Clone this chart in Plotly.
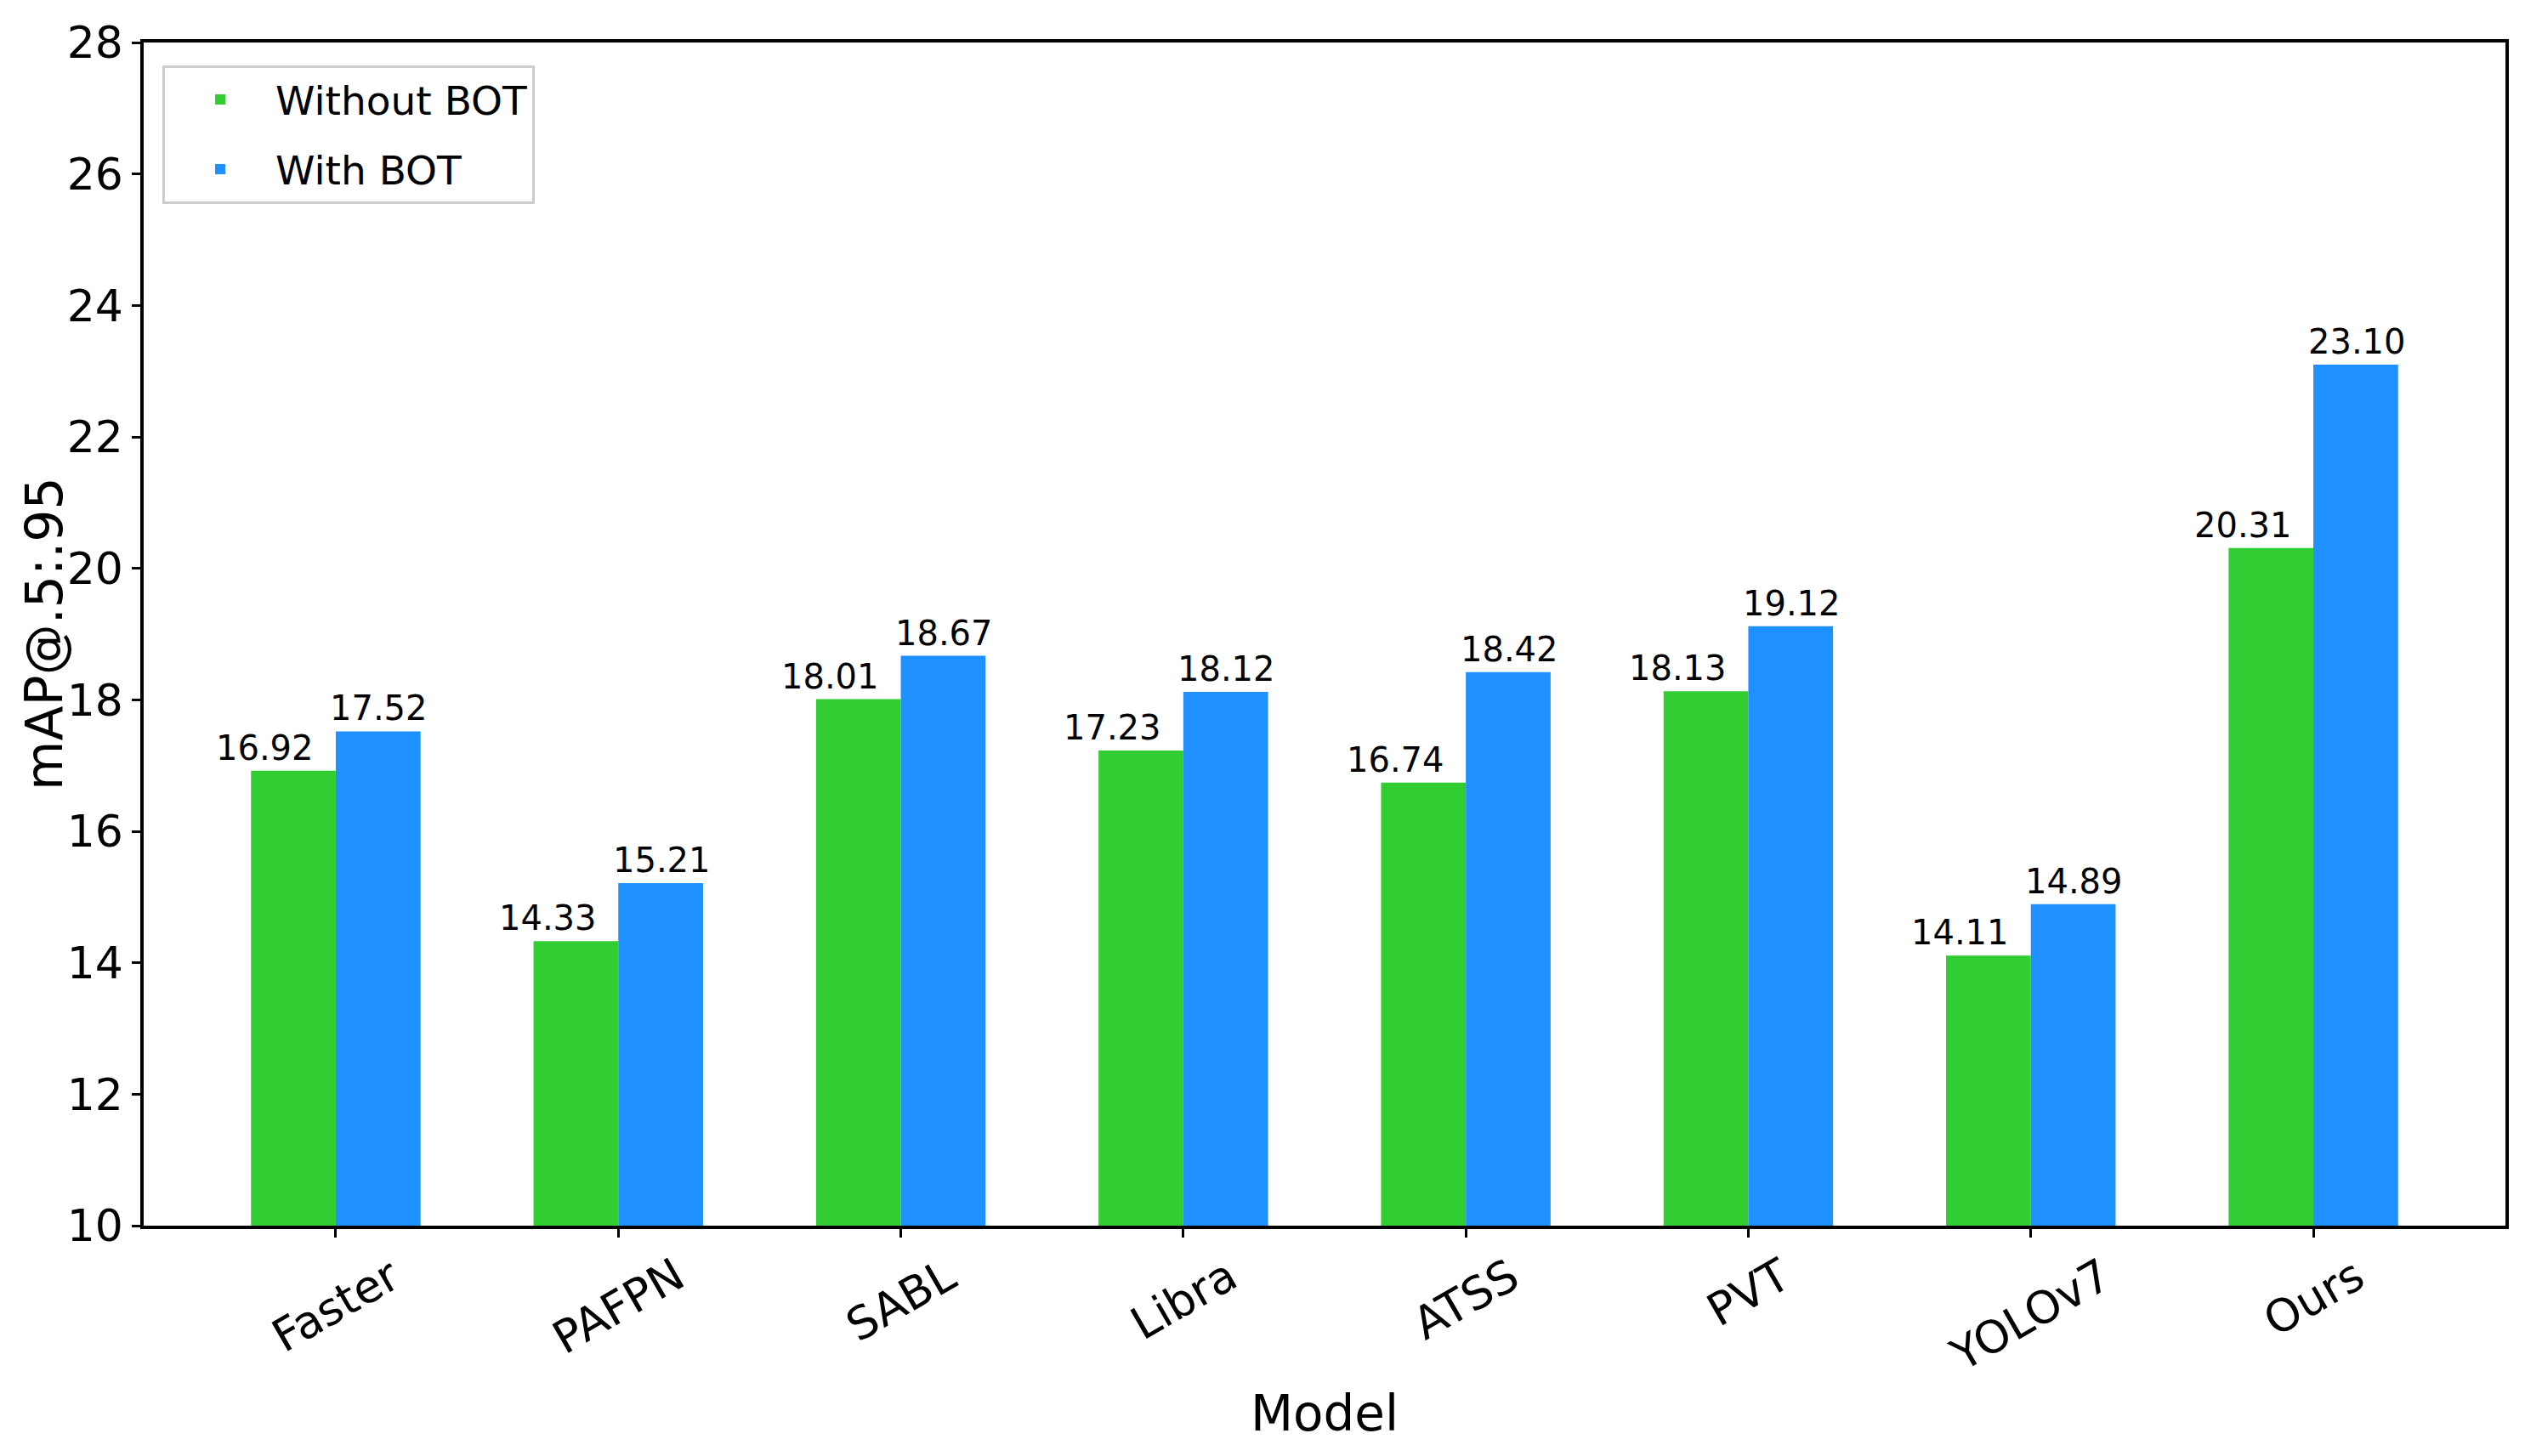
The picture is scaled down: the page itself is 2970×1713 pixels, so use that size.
import plotly.graph_objects as go

models = ["Faster", "PAFPN", "SABL", "Libra", "ATSS", "PVT", "YOLOv7", "Ours"]
without_bot = [16.92, 14.33, 18.01, 17.23, 16.74, 18.13, 14.11, 20.31]
with_bot = [17.52, 15.21, 18.67, 18.12, 18.42, 19.12, 14.89, 23.10]
y_ticks = [10, 12, 14, 16, 18, 20, 22, 24, 26, 28]

FONT = "DejaVu Sans"
PAGE = 8  # default body margin of the html page
W, H = 2970 - PAGE, 1713 - PAGE
L, T = 169 - PAGE, 43 - PAGE
PW, PH = 2778, 1399
R, B = W - L - PW, H - T - PH

fig = go.Figure()
fig.add_trace(go.Bar(
    x=models, y=without_bot, name="Without BOT", legendgroup="a",
    marker=dict(color="#32CD32", line=dict(width=0)),
))
fig.add_trace(go.Bar(
    x=models, y=with_bot, name="With BOT", legendgroup="b",
    marker=dict(color="#1E90FF", line=dict(width=0)),
))

annotations = []
for vals, shift in ((without_bot, -83), (with_bot, 51)):
    for m, v in zip(models, vals):
        annotations.append(dict(
            x=m, xref="x", y=v, yref="y", text=f"{v:.2f}",
            showarrow=False, xanchor="center", yanchor="bottom",
            xshift=shift, yshift=2,
            font=dict(family=FONT, size=40, color="black"),
        ))
for m in models:
    annotations.append(dict(
        x=m, xref="x", y=-24 / PH, yref="paper",
        text=m, showarrow=False, textangle=-30,
        xanchor="center", yanchor="top",
        font=dict(family=FONT, size=53, color="black"),
    ))
annotations.append(dict(
    x=0.5, xref="paper", y=-(1664 - 1442) / PH, yref="paper",
    text="Model", showarrow=False, xanchor="center", yanchor="middle",
    font=dict(family=FONT, size=58, color="black"),
))
annotations.append(dict(
    x=-(169 - 52) / PW, xref="paper", y=0.5, yref="paper",
    text="mAP@.5:.95", showarrow=False, textangle=-90,
    xanchor="center", yanchor="middle",
    font=dict(family=FONT, size=60, color="black"),
))

fig.update_layout(
    width=W, height=H,
    margin=dict(l=L, r=R, t=T, b=B),
    paper_bgcolor="white", plot_bgcolor="white",
    barmode="group", bargap=0.4, bargroupgap=0,
    font=dict(family=FONT, color="black"),
    showlegend=True,
    legend=dict(
        x=(191 - 169) / PW, y=1 - (70 - 43) / PH,
        xanchor="left", yanchor="top",
        bgcolor="white", bordercolor="#cccccc", borderwidth=3,
        font=dict(family=FONT, size=47, color="black"),
        itemwidth=120, tracegroupgap=18,
    ),
    annotations=annotations,
)
fig.update_xaxes(
    type="category", range=[-0.68, 7.68],
    showticklabels=False,
    showline=True, linecolor="black", linewidth=3.5, mirror=True,
    ticks="outside", ticklen=10, tickwidth=3, tickcolor="black",
    showgrid=False, zeroline=False,
)
fig.update_yaxes(
    range=[10, 28], tickvals=y_ticks, ticktext=[str(v) for v in y_ticks],
    showline=True, linecolor="black", linewidth=3.5, mirror=True,
    ticks="outside", ticklen=10, tickwidth=3, tickcolor="black",
    tickfont=dict(family=FONT, size=52, color="black"),
    showgrid=False, zeroline=False,
)

fig.write_html("out.html")
